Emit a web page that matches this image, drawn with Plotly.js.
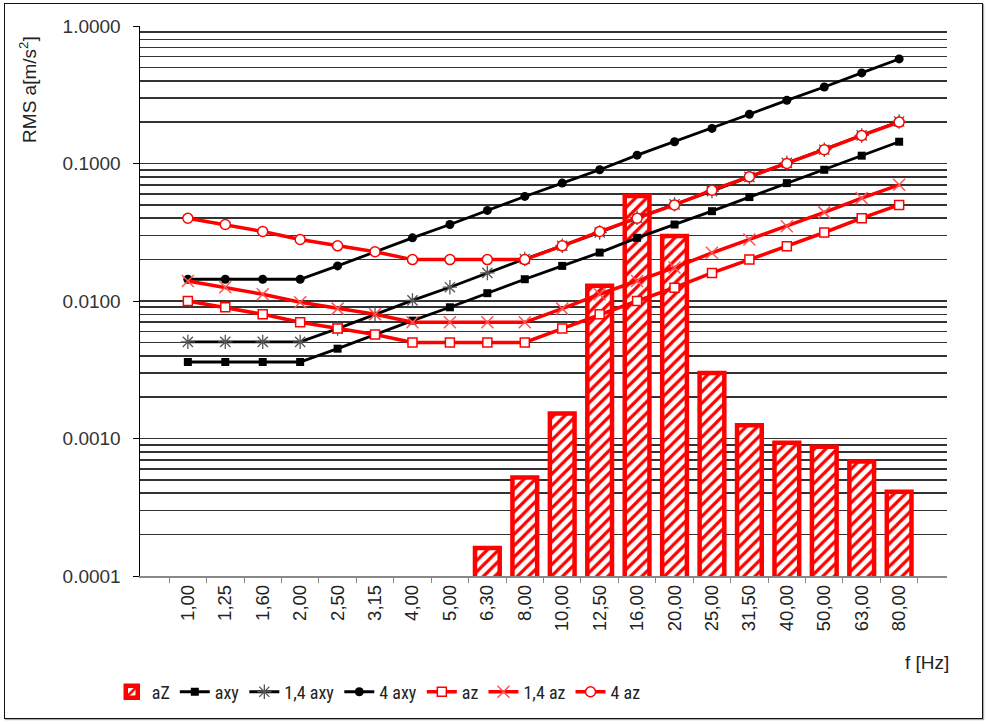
<!DOCTYPE html>
<html>
<head>
<meta charset="utf-8">
<script src="https://cdn.plot.ly/plotly-3.0.1.min.js"></script>
<style>
  html, body { margin: 0; padding: 0; background: #fff; }
  #chart { position: absolute; left: 0; top: 0; width: 988px; height: 724px; }
  #frame { position: absolute; left: 4px; top: 3px; width: 977px; height: 714px; border: 1.5px solid #111; pointer-events: none; box-shadow: 1px 1px 1px #aaa; }
</style>
</head>
<body>
<div id="chart"></div>
<div id="frame"></div>
<script>
const categories = ["1,00","1,25","1,60","2,00","2,50","3,15","4,00","5,00","6,30","8,00","10,00","12,50","16,00","20,00","25,00","31,50","40,00","50,00","63,00","80,00"];

const aZ_bars = [null,null,null,null,null,null,null,null,0.00016,0.00052,0.00152,0.0129,0.058,0.0297,0.0030,0.00125,0.00093,0.00087,0.00068,0.00041];

const axy    = [0.0036,0.0036,0.0036,0.0036,0.0045,0.0057,0.0072,0.009,0.0114,0.0144,0.018,0.0225,0.0288,0.036,0.045,0.057,0.072,0.09,0.114,0.144];
const axy14  = [0.00504,0.00504,0.00504,0.00504,0.0063,0.008,0.0101,0.0126,0.016,0.0202,0.0252,0.0315,0.0403,0.0504,0.063,0.08,0.101,0.126,0.16,0.202];
const axy4   = [0.0144,0.0144,0.0144,0.0144,0.018,0.0228,0.0288,0.036,0.0456,0.0576,0.072,0.09,0.115,0.144,0.18,0.228,0.288,0.36,0.456,0.576];
const az     = [0.01,0.009,0.008,0.007,0.0063,0.0057,0.005,0.005,0.005,0.005,0.0063,0.008,0.01,0.0125,0.016,0.02,0.025,0.0315,0.04,0.05];
const az14   = [0.014,0.0126,0.0112,0.0098,0.0088,0.008,0.007,0.007,0.007,0.007,0.0088,0.0112,0.014,0.0175,0.0224,0.028,0.035,0.0441,0.056,0.07];
const az4    = [0.04,0.036,0.032,0.028,0.0252,0.0228,0.02,0.02,0.02,0.02,0.0252,0.032,0.04,0.05,0.064,0.08,0.1,0.126,0.16,0.2];

const yTickVals = [0.0001,0.001,0.01,0.1,1];
const yTickText = ["0.0001","0.0010","0.0100","0.1000","1.0000"];
const minorMultipliers = [2,3,4,5,6,7,8,9];

const minorVals = [];
yTickVals.slice(0,4).forEach(d => minorMultipliers.forEach(m => minorVals.push(d*m)));

const FONT = 'Arial, "Liberation Sans", sans-serif';
const NARROW = '"Liberation Sans Narrow", "Arial Narrow", "Roboto Condensed", "DejaVu Sans Condensed", sans-serif';

const traces = [
  { type:'bar', name:'aZ', x:categories, y:aZ_bars, width:0.66,
    marker:{ color:'white', line:{color:'#ff0000', width:4.5},
             pattern:{shape:'/', fgcolor:'#ff0000', bgcolor:'white', size:8, solidity:0.4} } },
  { type:'scatter', mode:'lines+markers', name:'axy', x:categories, y:axy,
    line:{color:'#000', width:2.8}, marker:{symbol:'square', size:8, color:'#000'} },
  { type:'scatter', mode:'lines+markers', name:'1,4 axy', x:categories, y:axy14,
    line:{color:'#000', width:2.8}, marker:{symbol:'asterisk-open', size:12, color:'#555', line:{color:'#555', width:1.3}} },
  { type:'scatter', mode:'lines+markers', name:'4 axy', x:categories, y:axy4,
    line:{color:'#000', width:2.8}, marker:{symbol:'circle', size:9, color:'#000'} },
  { type:'scatter', mode:'lines+markers', name:'az', x:categories, y:az,
    line:{color:'#ff0000', width:3.5}, marker:{symbol:'square', size:9, color:'white', line:{color:'#ff0000', width:1.5}} },
  { type:'scatter', mode:'lines+markers', name:'1,4 az', x:categories, y:az14,
    line:{color:'#ff0000', width:3.5}, marker:{symbol:'x-thin-open', size:12, color:'#ff5555', line:{color:'#ff5555', width:1.5}} },
  { type:'scatter', mode:'lines+markers', name:'4 az', x:categories, y:az4,
    line:{color:'#ff0000', width:3.5}, marker:{symbol:'circle', size:10, color:'white', line:{color:'#ff0000', width:1.5}} }
];

const layout = {
  width: 988, height: 724,
  margin: {l:140, r:41, t:26, b:148},
  paper_bgcolor: 'rgba(0,0,0,0)', plot_bgcolor: 'white',
  font: {family: FONT, size: 18, color: '#222'},
  showlegend: true,
  legend: {orientation:'h', x:-0.035, xanchor:'left', y:-0.211, yanchor:'middle',
           font:{family:NARROW, size:18, color:'#222'}, itemwidth:30, tracegroupgap:0, traceorder:'normal'},
  xaxis: {type:'category', tickangle:-90, ticks:'outside', tickson:'boundaries', ticklen:5,
          tickcolor:'#888', showline:true, linecolor:'#888', linewidth:1.5, showgrid:false,
          tickfont:{family:FONT, size:18.5, color:'#222'}, fixedrange:true},
  yaxis: {type:'log', range:[-4, 0], tickmode:'array', tickvals:yTickVals, ticktext:yTickText,
          ticks:'outside', ticklen:6, tickcolor:'#000', showline:true, linecolor:'#000', linewidth:1.5,
          showgrid:true, gridcolor:'#333', gridwidth:1.6, zeroline:false, ticklabelstandoff:8,
          tickfont:{family:FONT, size:19, color:'#333'},
          minor:{tickmode:'array', tickvals:minorVals, showgrid:true, gridcolor:'#333', gridwidth:1.6, ticks:''}},
  bargap: 0.34,
  annotations: [
    {text:'RMS a[m/s<sup>2</sup>]', xref:'paper', yref:'paper', x:-0.138, y:0.885, textangle:-90,
     showarrow:false, font:{family:FONT, size:19, color:'#222'}, xanchor:'center', yanchor:'middle'},
    {text:'f [Hz]', xref:'paper', yref:'paper', x:0.975, y:-0.158, showarrow:false,
     font:{family:FONT, size:19, color:'#222'}, xanchor:'center', yanchor:'middle'}
  ]
};

Plotly.newPlot('chart', traces, layout, {displayModeBar:false, staticPlot:true});
</script>
</body>
</html>
